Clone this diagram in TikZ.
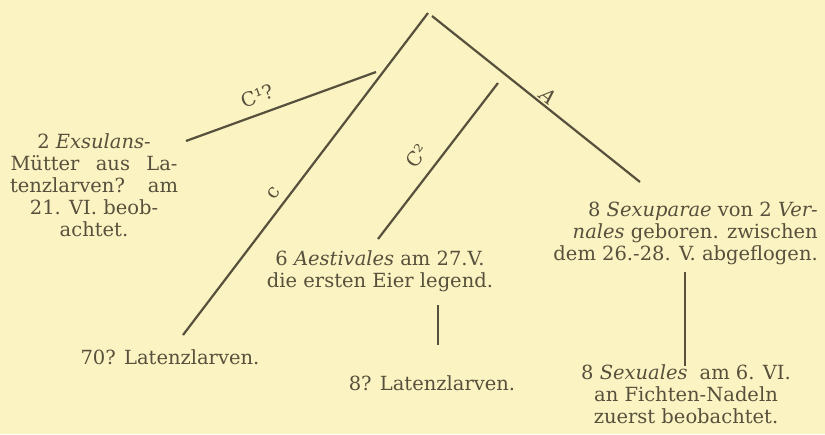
\documentclass[tikz,border=0pt]{standalone}
\usepackage{fontspec}
\setmainfont{DejaVu Serif}
\definecolor{paper}{RGB}{252,243,194}
\definecolor{ink}{RGB}{86,80,60}
\begin{document}
\begin{tikzpicture}[x=1pt,y=-1pt,
  every node/.style={text=ink,inner sep=0pt,font=\fontsize{19.5}{22}\selectfont},
  branch/.style={draw=ink,line width=2.2pt},
  lab/.style={text=ink,inner sep=0pt,font=\fontsize{19.5}{20}\selectfont}]
\fill[paper] (0,0) rectangle (825,434);
\useasboundingbox (0,0) rectangle (825,434);
% text nodes
\node[align=center] (exs) at (94,185) {2 \textit{Exsulans-}\\ \makebox[167pt][s]{Mütter aus La-}\\ \makebox[168pt][s]{tenzlarven? am}\\ 21. VI. beob-\\ achtet.};
\node (lat70) at (170,357) {70? Latenzlarven.};
\node[align=center] (aest) at (380,271) {6 \textit{Aestivales} am 27.V.\\ die ersten Eier legend.};
\node (lat8) at (432,383) {8? Latenzlarven.};
\node[align=right,anchor=east] (sexp) at (818,233) {8 \textit{Sexuparae} von 2 \textit{Ver-}\\ \textit{nales} geboren. zwischen\\ dem 26.-28. V. abgeflogen.};
\node[align=center] (sexl) at (686,394) {8 \textit{Sexuales}\hspace{0.3em} am 6. VI.\\ an Fichten-Nadeln\\ zuerst beobachtet.};
% branch end points
\coordinate (topL) at (428,13);
\coordinate (topR) at (432,16);
\coordinate (cEnd) at (183,335);
\coordinate (cOneA) at (186,141);
\coordinate (cOneB) at (376,72);
\coordinate (cTwoA) at (498,83);
\coordinate (cTwoB) at (378,239);
\coordinate (aEnd) at (640,182);
\coordinate (vOneA) at (438,305);
\coordinate (vOneB) at (438,345);
\coordinate (vTwoA) at (685,272);
\coordinate (vTwoB) at (685,366);
% branches
\draw[branch] (topL) -- (cEnd);
\draw[branch] (topR) -- (aEnd);
\draw[branch] (cOneA) -- (cOneB);
\draw[branch] (cTwoA) -- (cTwoB);
\draw[branch] (vOneA) -- (vOneB);
\draw[branch] (vTwoA) -- (vTwoB);
% branch labels
\node[lab,rotate=20] (lcone) at (257,96) {C¹?};
\node[lab,rotate=53] (lc) at (274,193) {c};
\node[lab,rotate=52] (lctwo) at (417,156) {C²};
\node[lab,rotate=-38] (la) at (548,96) {\textit{A}};
\end{tikzpicture}
\end{document}
